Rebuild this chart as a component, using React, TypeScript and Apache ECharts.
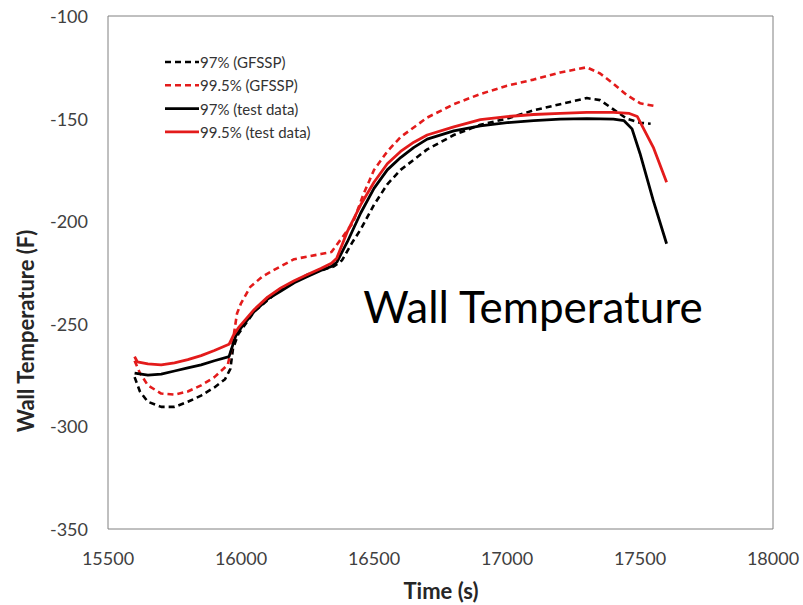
import React, { useEffect, useRef } from "react";
import * as echarts from "echarts";

// Wall temperature vs. time, [time (s), temperature (F)]
const sim97: [number, number][] = [
  [15600, -276], [15620, -283], [15650, -288], [15700, -290.5], [15750, -290.5],
  [15800, -288], [15850, -285], [15900, -281], [15940, -277], [15960, -272],
  [15970, -262], [15990, -255], [16050, -244], [16150, -233], [16250, -226],
  [16350, -222], [16380, -219], [16420, -210], [16450, -204], [16500, -192],
  [16550, -182], [16600, -175], [16700, -165], [16800, -158], [16900, -153],
  [17000, -150], [17100, -146], [17200, -143], [17300, -140], [17350, -141],
  [17400, -145.5], [17450, -150], [17500, -152], [17540, -152.5],
];

const sim995: [number, number][] = [
  [15600, -268], [15620, -274], [15650, -280], [15700, -284], [15750, -284.5],
  [15800, -283], [15850, -280], [15900, -276], [15950, -270], [15965, -262],
  [15985, -245], [16000, -240], [16035, -232], [16080, -227], [16120, -224],
  [16200, -218.5], [16300, -216], [16340, -215], [16380, -208], [16420, -201],
  [16460, -187], [16500, -175], [16550, -166], [16600, -159], [16700, -149.5],
  [16800, -143], [16900, -138], [17000, -134], [17100, -131], [17200, -127.5],
  [17300, -125], [17350, -128], [17400, -133], [17450, -138.5], [17500, -142.5],
  [17560, -144],
];

const test97: [number, number][] = [
  [15600, -274], [15650, -275], [15700, -274.5], [15750, -273], [15800, -271.5],
  [15850, -270], [15900, -268], [15955, -266], [15965, -262], [15980, -256],
  [16000, -252], [16050, -244], [16100, -238], [16150, -234], [16200, -230],
  [16250, -227], [16300, -224], [16340, -222], [16360, -220], [16400, -210],
  [16450, -196], [16500, -184], [16550, -175], [16600, -169], [16650, -164],
  [16700, -160], [16800, -156], [16900, -153.5], [17000, -152], [17100, -151],
  [17200, -150.3], [17300, -150], [17400, -150.3], [17440, -151], [17470, -155],
  [17500, -167], [17550, -190], [17600, -211],
];

const test995: [number, number][] = [
  [15600, -266], [15610, -268.5], [15650, -269.5], [15700, -270], [15750, -269],
  [15800, -267.5], [15850, -265.5], [15900, -263], [15955, -260], [15970, -256],
  [15990, -252], [16050, -243], [16100, -237], [16150, -232.5], [16200, -229],
  [16250, -226], [16300, -223], [16340, -220.5], [16360, -218], [16400, -205],
  [16450, -192], [16500, -181], [16550, -172], [16600, -166], [16650, -161.5],
  [16700, -158], [16800, -154], [16900, -150.5], [17000, -149], [17100, -148],
  [17200, -147.5], [17300, -147], [17400, -147], [17460, -147.5], [17490, -149],
  [17550, -164], [17600, -181],
];

const seriesNames = ["97% (GFSSP)", "99.5% (GFSSP)", "97% (test data)", "99.5% (test data)"];
const seriesColors = ["#000000", "#e31b1b", "#000000", "#e31b1b"];
const seriesDashed = [true, true, false, false];

const FONT = "Lato, 'Open Sans', sans-serif";
const DASH = [6, 4];

export default function App() {
  const ref = useRef<HTMLDivElement>(null);

  useEffect(() => {
    if (!ref.current) return;
    const chart = echarts.init(ref.current, undefined, { renderer: "svg" });

    const seriesData = [sim97, sim995, test97, test995];

    const series = seriesNames.map((name, i) => ({
      name,
      type: "line",
      data: seriesData[i],
      symbol: "none",
      smooth: false,
      lineStyle: {
        color: seriesColors[i],
        width: seriesDashed[i] ? 2.6 : 2.8,
        type: seriesDashed[i] ? DASH : "solid",
      },
      itemStyle: { color: seriesColors[i] },
      z: seriesDashed[i] ? 2 : 3,
    }));

    // Legend drawn as plain line samples + labels in the upper-left of the plot
    const legendX = 165;
    const legendY = 62;
    const legendStep = 23.3;
    const legendItems: any[] = [];
    seriesNames.forEach((name, i) => {
      const y = legendY + i * legendStep;
      legendItems.push({
        type: "line",
        shape: { x1: legendX, y1: y, x2: legendX + 34, y2: y },
        style: {
          stroke: seriesColors[i],
          lineWidth: 2.6,
          lineDash: seriesDashed[i] ? DASH : null,
        },
      });
      legendItems.push({
        type: "text",
        x: legendX + 35,
        y,
        style: {
          text: name,
          fontFamily: FONT,
          fontSize: 15,
          fill: "#333333",
          textAlign: "left",
          textVerticalAlign: "middle",
        },
      });
    });

    chart.setOption({
      animation: false,
      backgroundColor: "#ffffff",
      grid: {
        left: 108,
        top: 16,
        right: 30,
        bottom: 76,
        show: true,
        borderColor: "#808080",
        borderWidth: 1,
        backgroundColor: "transparent",
      },
      xAxis: {
        type: "value",
        min: 15500,
        max: 18000,
        interval: 500,
        axisLine: { show: false },
        axisTick: { show: false },
        splitLine: { show: false },
        axisLabel: {
          fontFamily: FONT,
          fontSize: 18,
          color: "#404040",
          margin: 20,
          formatter: (v: number) => String(v),
        },
      },
      yAxis: {
        type: "value",
        min: -350,
        max: -100,
        interval: 50,
        axisLine: { show: false },
        axisTick: { show: false },
        splitLine: { show: false },
        axisLabel: {
          fontFamily: FONT,
          fontSize: 18,
          color: "#404040",
          margin: 20,
          formatter: (v: number) => String(v),
        },
      },
      graphic: [
        {
          type: "text",
          x: 441,
          y: 590,
          style: {
            text: "Time (s)",
            fontFamily: FONT,
            fontSize: 22,
            fontWeight: "bold",
            fill: "#262626",
            textAlign: "center",
            textVerticalAlign: "middle",
          },
        },
        {
          type: "text",
          x: 25,
          y: 331,
          rotation: Math.PI / 2,
          style: {
            text: "Wall Temperature (F)",
            fontFamily: FONT,
            fontSize: 22,
            fontWeight: "bold",
            fill: "#262626",
            textAlign: "center",
            textVerticalAlign: "middle",
          },
        },
        {
          type: "text",
          x: 533,
          y: 306,
          style: {
            text: "Wall Temperature",
            fontFamily: FONT,
            fontSize: 44,
            fill: "#000000",
            textAlign: "center",
            textVerticalAlign: "middle",
          },
        },
        ...legendItems,
      ],
      series,
    });

    return () => chart.dispose();
  }, []);

  return <div ref={ref} style={{ width: 803, height: 605, position: "absolute", left: 0, top: 0 }} />;
}
